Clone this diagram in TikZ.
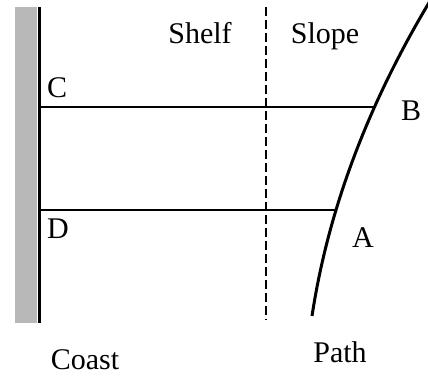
\documentclass[tikz,border=0pt]{standalone}
\usepackage{fontspec}
\setmainfont{Liberation Serif}
\tikzset{
  lbl/.style={inner sep=0pt, anchor=base, font=\fontsize{30}{36}\selectfont},
  track/.style={line width=2pt},
}
\begin{document}
\begin{tikzpicture}[x=1pt,y=-1pt]
    \useasboundingbox (0,0) rectangle (428,375);

    % coast
    \fill[black!28] (15,7) rectangle (37,323);
    \coordinate (coastTop) at (39,7);
    \coordinate (coastBot) at (39,323);
    \draw[line width=3pt] (coastTop) -- (coastBot);

    % shelf break
    \coordinate (breakTop) at (266,7);
    \coordinate (breakBot) at (266,320);
    \draw[line width=1.3pt, dash pattern=on 9pt off 4pt] (breakTop) -- (breakBot);

    % path of the storm
    \coordinate (pathBot) at (312,316);
    \coordinate (ptA) at (335,210);
    \coordinate (ptB) at (375,107);
    \coordinate (pathTop) at (430,1);
    \draw[line width=3pt] (pathBot) .. controls (328,211) and (367,106) .. (pathTop);

    \coordinate (ptC) at (39,107);
    \coordinate (ptD) at (39,210);
    \draw[track] (ptC) -- (ptB);
    \draw[track] (ptD) -- (ptA);

    \node[lbl, anchor=base west] (labC) at (47,97) {C};
    \node[lbl, anchor=base west] (labD) at (47,238) {D};
    \node[lbl, anchor=base west] (labB) at (401,120) {B};
    \node[lbl, anchor=base west] (labA) at (352,247) {A};

    \node[lbl] (shelf) at (200,43) {Shelf};
    \node[lbl] (slope) at (325,43) {Slope};
    \node[lbl] (coast) at (85,369) {Coast};
    \node[lbl] (path) at (340,362) {Path};
\end{tikzpicture}
\end{document}
